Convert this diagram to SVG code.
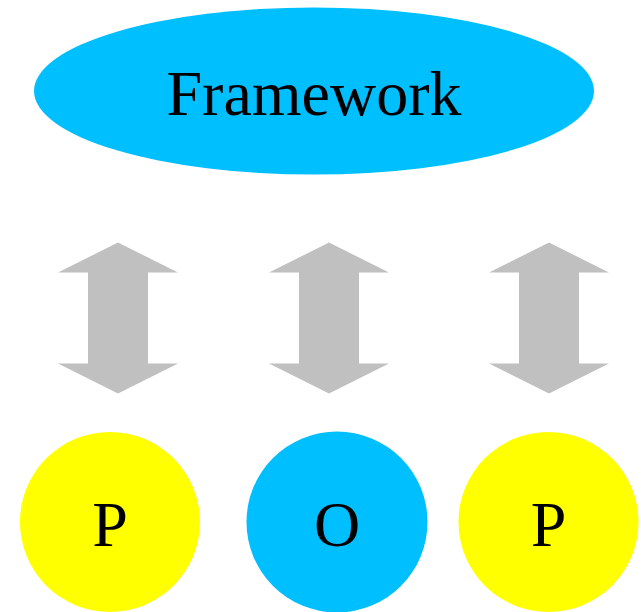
<svg xmlns="http://www.w3.org/2000/svg" width="641" height="612" viewBox="0 0 641 612">
<style>
.lbl{font-family:"Liberation Serif","Times New Roman",serif;font-size:64px;fill:#000;text-anchor:middle}
.arrow{fill:#c0c0c0;stroke:none}
</style>
<defs>
<polygon id="dbl" points="0,-150 60,-120 30,-120 30,-29 60,-29 0,1 -60,-29 -30,-29 -30,-120 -60,-120"/>
</defs>
<rect width="641" height="612" fill="#fff"/>
<g id="framework">
<ellipse cx="314" cy="91" rx="280" ry="83.5" fill="#00bfff"/>
<text class="lbl" x="314" y="115">Framework</text>
</g>
<g id="connectors">
<use href="#dbl" class="arrow" transform="translate(118,392.5)"/>
<use href="#dbl" class="arrow" transform="translate(329,392.5)"/>
<use href="#dbl" class="arrow" transform="translate(549,392.5)"/>
</g>
<g id="p1">
<circle cx="110" cy="522" r="90" fill="#ffff00"/>
<text class="lbl" x="110" y="546">P</text>
</g>
<g id="o">
<circle cx="337" cy="522" r="90.5" fill="#00bfff"/>
<text class="lbl" x="337" y="546">O</text>
</g>
<g id="p2">
<circle cx="548.5" cy="522" r="90" fill="#ffff00"/>
<text class="lbl" x="548.5" y="546">P</text>
</g>
</svg>
